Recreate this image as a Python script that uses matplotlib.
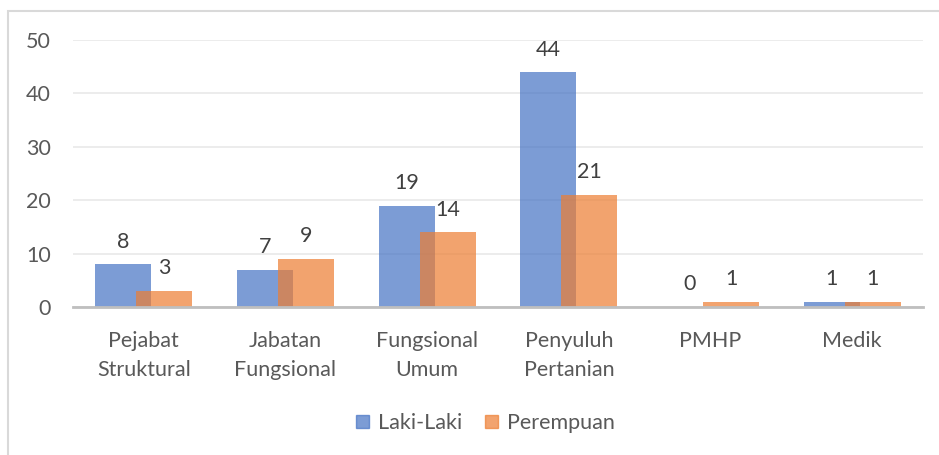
import numpy as np
import matplotlib.pyplot as plt
from matplotlib.patches import Rectangle

categories = ["Pejabat\nStruktural", "Jabatan\nFungsional", "Fungsional\nUmum",
              "Penyuluh\nPertanian", "PMHP", "Medik"]
laki = [8, 7, 19, 44, 0, 1]
perempuan = [3, 9, 14, 21, 1, 1]
series_names = ["Laki-Laki", "Perempuan"]

BLUE = "#4472C4"
ORANGE = "#ED7D31"
TEXT = "#595959"
FS = 15.5

plt.rcParams['font.family'] = ['Lato', 'DejaVu Sans']

fig = plt.figure(figsize=(9.39, 4.55), dpi=100)
ax = fig.add_axes([73 / 939, 1 - 307 / 455, 850 / 939, 267 / 455])

x = np.arange(len(categories))
width = 0.395
off = 0.145
b1 = ax.bar(x - off, laki, width, color=BLUE, alpha=0.7, label=series_names[0], zorder=2)
b2 = ax.bar(x + off, perempuan, width, color=ORANGE, alpha=0.7, label=series_names[1], zorder=3)

for bars in (b1, b2):
    ax.bar_label(bars, padding=9, fontsize=FS, color="#404040")

ax.set_xlim(-0.5, len(categories) - 0.5)
ax.set_ylim(0, 50)
ax.set_yticks(range(0, 51, 10))
ax.set_xticks(x)
ax.set_xticklabels(categories, linespacing=1.6)
ax.tick_params(axis='both', length=0, labelsize=FS, labelcolor=TEXT)
ax.tick_params(axis='y', pad=16)
ax.tick_params(axis='x', pad=17)
ax.grid(axis='y', color="#EBEBEB", linewidth=1.3, zorder=0)
ax.set_axisbelow(True)
for side in ('top', 'right', 'left'):
    ax.spines[side].set_visible(False)
ax.spines['bottom'].set_color("#BFBFBF")
ax.spines['bottom'].set_linewidth(2)
ax.spines['bottom'].set_zorder(4)

h = [Rectangle((0, 0), 1, 1, color=BLUE, alpha=0.7),
     Rectangle((0, 0), 1, 1, color=ORANGE, alpha=0.7)]
fig.legend(h, series_names, loc='center', bbox_to_anchor=(0.517, 1 - 423 / 455),
           ncol=2, frameon=False, fontsize=FS, labelcolor=TEXT,
           handlelength=0.6, handleheight=0.6, handletextpad=0.4, columnspacing=1.1)

# outer chart border
fig.patches.append(Rectangle((8 / 939, -0.1), 1.1, 1.1 - 11 / 455,
                             transform=fig.transFigure, fill=False,
                             edgecolor="#D9D9D9", linewidth=1.5))

fig.savefig("out.png", dpi=100)
